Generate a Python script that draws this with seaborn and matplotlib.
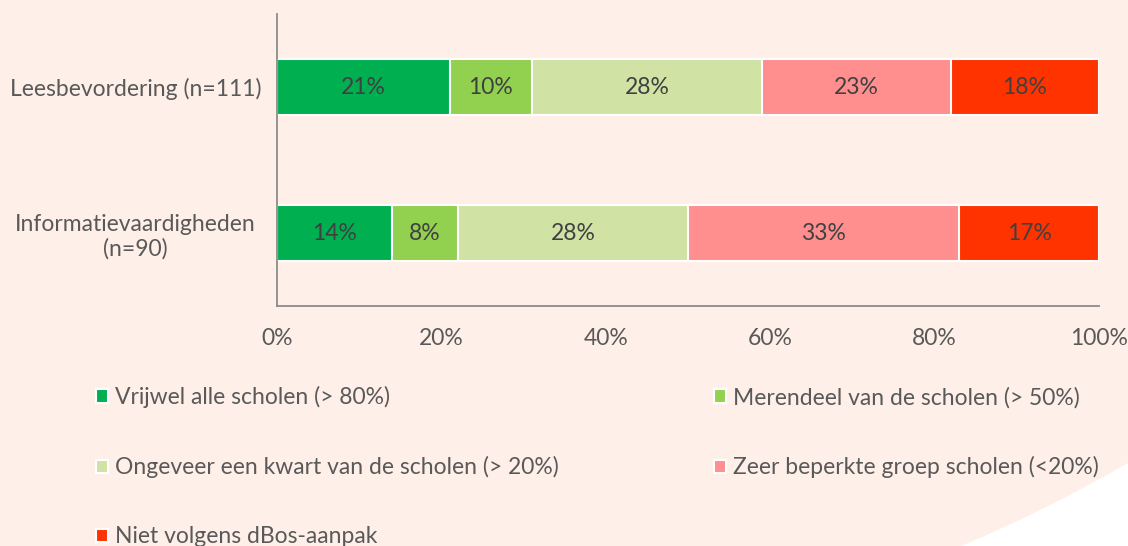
import numpy as np
import pandas as pd
import matplotlib.pyplot as plt
import matplotlib.patches as mpatches
from matplotlib.path import Path
import seaborn as sns

# data
categories = ['Leesbevordering (n=111)', 'Informatievaardigheden\n(n=90)']
series = ['Vrijwel alle scholen (> 80%)',
          'Merendeel van de scholen (> 50%)',
          'Ongeveer een kwart van de scholen (> 20%)',
          'Zeer beperkte groep scholen (<20%)',
          'Niet volgens dBos-aanpak']
values_lees = [21, 10, 28, 23, 18]
values_info = [14, 8, 28, 33, 17]
colors = ['#00B050', '#92D050', '#D0E2A4', '#FF8F8F', '#FF3300']

bg = '#FEF0E8'
txt = '#595959'
fs = 16.5

sns.set_theme(style='white')
plt.rcParams['font.family'] = ['Lato', 'DejaVu Sans']

df = pd.DataFrame([values_lees, values_info], columns=series)
df['cat'] = categories
cum = df[series].cumsum(axis=1)

fig = plt.figure(figsize=(11.28, 5.46), dpi=100, facecolor=bg)

# white corner bottom right (slide decoration)
p0 = (1.0, 1 - 463 / 546)
p1 = (0.925, 1 - 512 / 546)
p2 = (0.852, 0.0)
corner = Path([p0, p1, p2, (1.0, 0.0), p0],
              [Path.MOVETO, Path.CURVE3, Path.CURVE3, Path.LINETO, Path.CLOSEPOLY])
fig.patches.append(mpatches.PathPatch(corner, transform=fig.transFigure,
                                      facecolor='white', edgecolor='none', zorder=0))

ax = fig.add_axes([277 / 1128, 1 - 306 / 546, (1099 - 277) / 1128, (306 - 14) / 546])
ax.set_facecolor('none')

# stacked via overlapping cumulative bars, widest first
for i in reversed(range(len(series))):
    sns.barplot(x=cum[series[i]], y=df['cat'], orient='h', color=colors[i],
                width=0.39, edgecolor='white', linewidth=1.5, saturation=1,
                ax=ax, label=series[i])

for r in range(len(categories)):
    left = 0
    vals = df.loc[r, series].values
    for v in vals:
        ax.text(left + v / 2, r, f'{v}%', ha='center', va='center',
                fontsize=fs, color='#404040')
        left += v

ax.set_xlim(0, 100)
ax.set_ylim(1.5, -0.5)
ax.set_xticks(np.arange(0, 101, 20))
ax.set_xticklabels([f'{t}%' for t in range(0, 101, 20)])
ax.set_yticks([0, 1])
ax.set_yticklabels(categories, ha='center')
ax.set_xlabel('')
ax.set_ylabel('')

# category boundary ticks on y axis
ax.set_yticks([-0.5, 0.5, 1.5], minor=True)
ax.tick_params(axis='y', which='major', length=0, pad=102, labelsize=fs, labelcolor=txt)
ax.tick_params(axis='y', which='minor', length=6, width=1.3, color='#7F7F7F', direction='out')
ax.tick_params(axis='x', length=6, width=1.3, color='#7F7F7F', direction='out',
               labelsize=fs, labelcolor=txt, pad=10)
for s in ['top', 'right']:
    ax.spines[s].set_visible(False)
for s in ['left', 'bottom']:
    ax.spines[s].set_color('#8C8C8C')
    ax.spines[s].set_linewidth(1.3)

handles, labels = ax.get_legend_handles_labels()
lookup = dict(zip(labels, handles))
if ax.get_legend() is not None:
    ax.get_legend().remove()
order = [series[0], series[2], series[4], series[1], series[3]]
leg = fig.legend([lookup[l] for l in order], order, ncol=2, loc='upper left',
                 bbox_to_anchor=(96 / 1128, 1 - 386 / 546), frameon=False,
                 fontsize=fs, labelcolor=txt, handlelength=0.52, handleheight=0.52,
                 handletextpad=0.3, columnspacing=6.8, labelspacing=2.1,
                 borderpad=0, borderaxespad=0)

fig.savefig('out.png', dpi=100, facecolor=bg)
